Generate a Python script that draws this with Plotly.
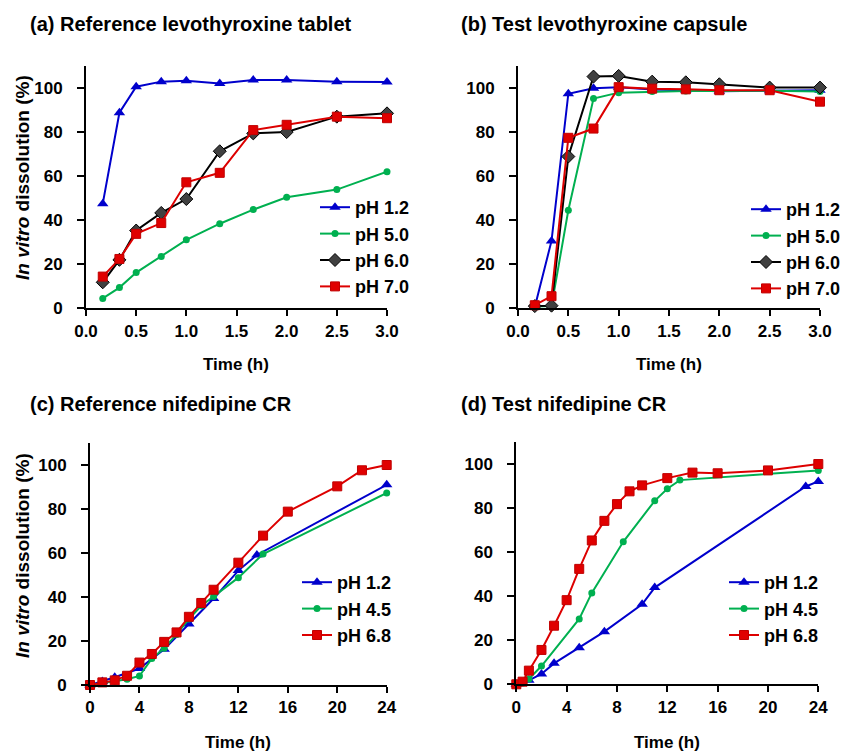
import plotly.graph_objects as go

W, H = 845, 751
FONT = "Liberation Sans, Arial, sans-serif"

# ---------------- data ----------------
# (a) Reference levothyroxine tablet
a_time = [0.167, 0.333, 0.5, 0.75, 1.0, 1.333, 1.667, 2.0, 2.5, 3.0]
a_ph12 = [47.5, 88.8, 100.6, 102.9, 103.3, 102.1, 103.6, 103.6, 102.9, 102.7]
a_ph50 = [4.5, 9.4, 16.2, 23.5, 31.1, 38.4, 44.8, 50.4, 53.9, 62.0]
a_ph60 = [11.8, 22.0, 35.3, 43.3, 49.6, 71.3, 79.4, 80.0, 87.0, 88.5]
a_ph70 = [14.4, 22.4, 33.8, 38.7, 57.2, 61.5, 80.9, 83.3, 87.0, 86.3]

# (b) Test levothyroxine capsule
b_time = [0.167, 0.333, 0.5, 0.75, 1.0, 1.333, 1.667, 2.0, 2.5, 3.0]
b_ph12 = [0.6, 30.6, 97.4, 99.9, 100.3, 99.3, 99.0, 98.5, 98.8, 99.0]
b_ph50 = [0.8, 1.0, 44.5, 95.2, 97.9, 98.4, 98.7, 98.6, 98.8, 98.4]
b_ph60 = [1.0, 1.2, 68.9, 105.2, 105.5, 102.9, 102.6, 101.7, 100.2, 100.2]
b_ph70 = [1.4, 5.5, 77.4, 81.6, 100.4, 99.7, 99.4, 99.0, 99.0, 93.8]

# (c) Reference nifedipine CR
c_time12 = [0, 1, 2, 4, 6, 8, 10, 12, 13.5, 24]
c_ph12 = [0, 1.6, 3.5, 7.5, 16.2, 27.7, 39.3, 52.0, 59.1, 91.0]
c_time45 = [0, 1, 2, 3, 4, 5, 6, 7, 8, 9, 10, 12, 14, 24]
c_ph45 = [0, 0.8, 1.6, 2.6, 4.1, 12.0, 16.7, 23.0, 30.0, 36.0, 40.2, 48.8, 59.5, 87.3]
c_time68 = [0, 1, 2, 3, 4, 5, 6, 7, 8, 9, 10, 12, 14, 16, 20, 22, 24]
c_ph68 = [0, 1.2, 2.1, 4.2, 10.2, 14.1, 19.6, 23.9, 31.0, 37.3, 43.3, 55.6, 67.9, 78.8, 90.3, 97.6, 100.0]

# (d) Test nifedipine CR
d_time12 = [0, 0.5, 1, 2, 3, 5, 7, 10, 11, 23, 24]
d_ph12 = [0, 0.5, 1.8, 4.7, 9.5, 16.6, 23.9, 36.3, 43.9, 89.8, 92.1]
d_time45 = [0, 0.5, 1, 2, 5, 6, 8.5, 11, 12, 13, 24]
d_ph45 = [0, 0.6, 2.4, 8.3, 29.7, 41.5, 64.7, 83.3, 88.8, 92.7, 97.1]
d_time68 = [0, 0.5, 1, 2, 3, 4, 5, 6, 7, 8, 9, 10, 12, 14, 16, 20, 24]
d_ph68 = [0, 1.2, 6.2, 15.6, 26.6, 38.2, 52.4, 65.3, 74.2, 81.8, 87.6, 90.3, 93.6, 96.1, 95.8, 97.1, 100.0]

titles = ["(a) Reference levothyroxine tablet", "(b) Test levothyroxine capsule",
          "(c) Reference nifedipine CR", "(d) Test nifedipine CR"]

# ---------------- styles ----------------
BLUE, GREEN, BLACK, RED = "#0000CC", "#00B050", "#000000", "#DD0000"
sty = {
    "blue": dict(line=dict(color=BLUE, width=2),
                 marker=dict(symbol="triangle-up", size=10, color=BLUE)),
    "green": dict(line=dict(color=GREEN, width=2),
                  marker=dict(symbol="circle", size=7, color=GREEN)),
    "black": dict(line=dict(color=BLACK, width=2),
                  marker=dict(symbol="diamond", size=10, color="#404040",
                              line=dict(color=BLACK, width=1))),
    "red": dict(line=dict(color=RED, width=2),
                marker=dict(symbol="square", size=9, color="#E00000",
                            line=dict(color="#C00000", width=1))),
}

fig = go.Figure()

def add(xv, yv, name, key, panel):
    ax = "" if panel == 1 else str(panel)
    leg = "legend" if panel == 1 else f"legend{panel}"
    fig.add_trace(go.Scatter(
        x=xv, y=yv, name=name, mode="lines+markers",
        xaxis="x" + ax, yaxis="y" + ax, legend=leg,
        legendgroup=f"{panel}-{name}", cliponaxis=False,
        **sty[key]))

add(a_time, a_ph12, "pH 1.2", "blue", 1)
add(a_time, a_ph50, "pH 5.0", "green", 1)
add(a_time, a_ph60, "pH 6.0", "black", 1)
add(a_time, a_ph70, "pH 7.0", "red", 1)

add(b_time, b_ph12, "pH 1.2", "blue", 2)
add(b_time, b_ph50, "pH 5.0", "green", 2)
add(b_time, b_ph60, "pH 6.0", "black", 2)
add(b_time, b_ph70, "pH 7.0", "red", 2)

add(c_time12, c_ph12, "pH 1.2", "blue", 3)
add(c_time45, c_ph45, "pH 4.5", "green", 3)
add(c_time68, c_ph68, "pH 6.8", "red", 3)

add(d_time12, d_ph12, "pH 1.2", "blue", 4)
add(d_time45, d_ph45, "pH 4.5", "green", 4)
add(d_time68, d_ph68, "pH 6.8", "red", 4)

# ---------------- layout ----------------
# panel pixel boxes: (left, right, top, bottom)
boxes = [(86, 387, 66, 308.3), (518, 820, 66, 308.3),
         (90, 386.7, 443, 685), (516.3, 818.3, 442, 684.3)]
xranges = [[0, 3], [0, 3], [0, 24], [0, 24]]
dticks = [0.5, 0.5, 4, 4]
fmts = [".1f", ".1f", "d", "d"]

tickfont = dict(family=FONT, size=17, color="black", weight="bold")
layout = dict(width=W, height=H, margin=dict(l=0, r=0, t=0, b=0, autoexpand=False),
              plot_bgcolor="white", paper_bgcolor="white", showlegend=True,
              font=dict(family=FONT, color="black"))
annotations = []
for i, (l, r, t, b) in enumerate(boxes):
    ax = "" if i == 0 else str(i + 1)
    layout["xaxis" + ax] = dict(
        domain=[l / W, r / W], anchor="y" + ax, range=xranges[i], dtick=dticks[i],
        tick0=0, tickformat=fmts[i], showline=True, linecolor="black", linewidth=2,
        ticks="outside", ticklen=6, tickwidth=2, tickcolor="black", automargin=False,
        showgrid=False, zeroline=False, tickfont=tickfont, fixedrange=True)
    layout["yaxis" + ax] = dict(
        domain=[1 - b / H, 1 - t / H], anchor="x" + ax, range=[0, 110], dtick=20,
        tick0=0, showline=True, linecolor="black", linewidth=2, automargin=False,
        ticks="outside", ticklen=7, tickwidth=2, tickcolor="black",
        ticklabelstandoff=11,
        showgrid=False, zeroline=False, tickfont=tickfont, fixedrange=True)
    # panel title
    tx = 28 if i % 2 == 0 else 459
    ty = 24 if i < 2 else 404
    annotations.append(dict(text="<b>" + titles[i] + "</b>", xref="paper", yref="paper",
                            x=tx / W, y=1 - ty / H, xanchor="left", yanchor="middle",
                            showarrow=False, font=dict(family=FONT, size=20, color="black")))
    # x-axis title
    xty = 365 if i < 2 else 742
    annotations.append(dict(text="<b>Time (h)</b>", xref="paper", yref="paper",
                            x=(l + r) / 2 / W, y=1 - xty / H, xanchor="center",
                            yanchor="middle", showarrow=False,
                            font=dict(family=FONT, size=17, color="black")))
# y-axis titles (left column only)
for yc in (178, 556):
    annotations.append(dict(text="<b><i>In vitro</i> dissolution (%)</b>", xref="paper",
                            yref="paper", x=22 / W, y=1 - yc / H, xanchor="center",
                            yanchor="middle", textangle=-90, showarrow=False,
                            font=dict(family=FONT, size=19, color="black")))
layout["annotations"] = annotations

legfont = dict(family=FONT, size=18, color="black", weight="bold")
leg_pos = [(315, 189), (746, 191), (297, 564), (724, 564)]
for i, (lx, ly) in enumerate(leg_pos):
    key = "legend" if i == 0 else f"legend{i + 1}"
    layout[key] = dict(x=lx / W, y=1 - ly / H, xanchor="left", yanchor="top",
                       xref="container", yref="container",
                       bgcolor="rgba(0,0,0,0)", font=legfont, tracegroupgap=0,
                       itemclick=False, itemdoubleclick=False)

fig.update_layout(**layout)
fig.write_html("out.html", config={"displayModeBar": False})
